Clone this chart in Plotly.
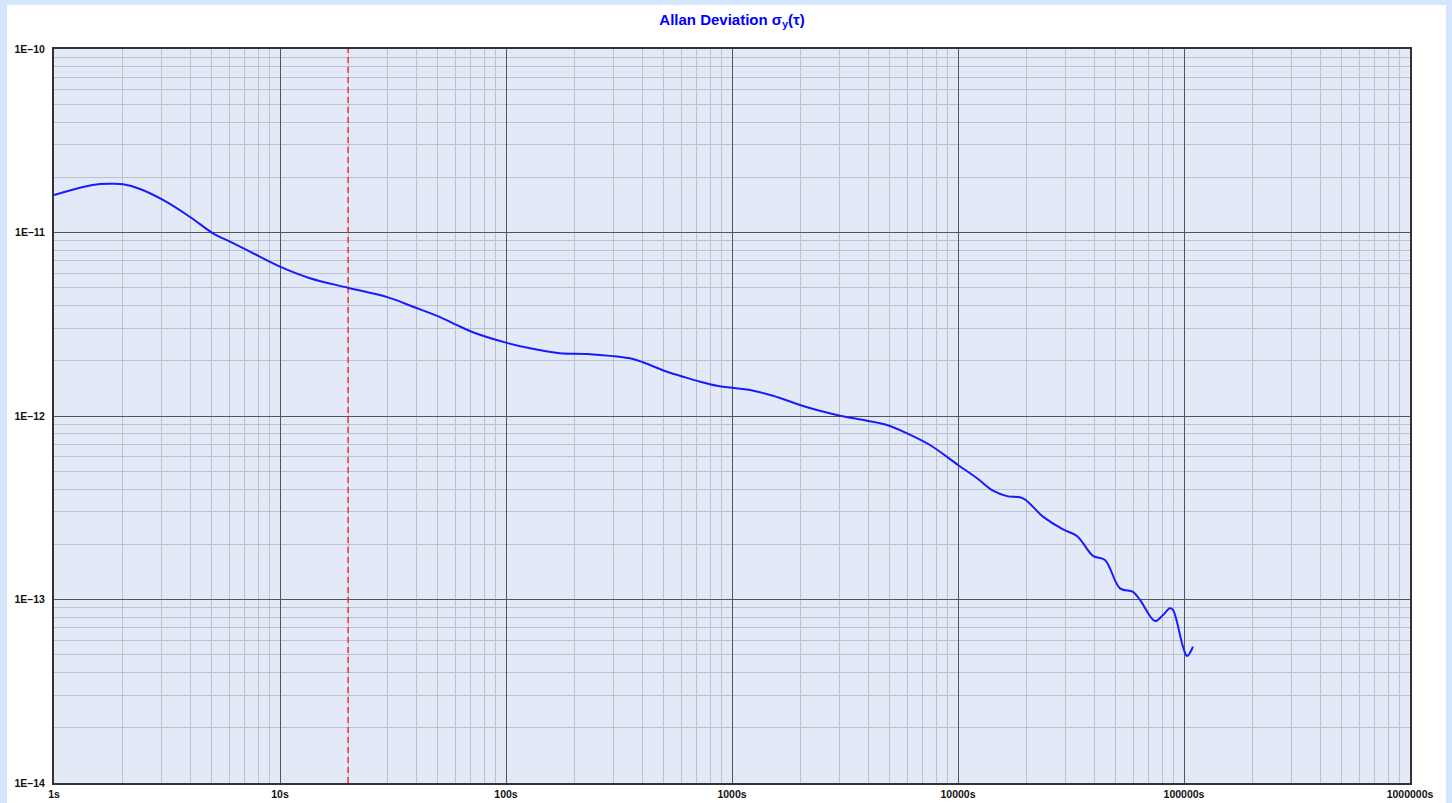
import plotly.graph_objects as go

# Allan deviation data
tau = [1.0, 1.344, 1.598, 1.824, 2.02, 2.402, 3.036, 3.998, 5.051, 6.008, 7.367, 10.0,
       13.57, 20.0, 30.06, 38.77, 49.52, 60.7, 71.4, 100.0, 127.7, 173.4, 228.2, 297.5,
       364.7, 403.8, 515.6, 607.0, 721.8, 858.2, 1000.0, 1201.0, 1519.0, 1999.0, 2377.0,
       3006.0, 3957.0, 4851.0, 5948.0, 7517.0, 10000.0, 12140.0, 14290.0, 16480.0,
       19390.0, 23770.0, 29150.0, 33610.0, 39570.0, 44710.0, 52110.0, 59480.0, 63890.0,
       74410.0, 80760.0, 86720.0, 89390.0, 98990.0, 103100.0, 109600.0]
sigma = [1.60e-11, 1.77e-11, 1.838e-11, 1.845e-11, 1.831e-11, 1.726e-11, 1.504e-11,
         1.215e-11, 9.90e-12, 8.91e-12, 7.86e-12, 6.51e-12, 5.63e-12, 5.00e-12, 4.43e-12,
         3.94e-12, 3.51e-12, 3.13e-12, 2.86e-12, 2.51e-12, 2.34e-12, 2.20e-12, 2.18e-12,
         2.12e-12, 2.045e-12, 1.962e-12, 1.743e-12, 1.637e-12, 1.538e-12, 1.462e-12,
         1.426e-12, 1.386e-12, 1.29e-12, 1.148e-12, 1.078e-12, 1.004e-12, 9.43e-13,
         8.93e-13, 8.05e-13, 6.95e-13, 5.41e-13, 4.58e-13, 3.92e-13, 3.66e-13, 3.56e-13,
         2.83e-13, 2.41e-13, 2.22e-13, 1.73e-13, 1.64e-13, 1.15e-13, 1.10e-13, 9.94e-14,
         7.63e-14, 8.23e-14, 8.96e-14, 8.77e-14, 5.53e-14, 4.92e-14, 5.53e-14]

marker_tau = 20.0
y_limits = [1e-14, 1e-10]

x_tickvals = [1, 10, 100, 1000, 10000, 100000, 1000000]
x_ticktext = ["1s", "10s", "100s", "1000s", "10000s", "100000s", "1000000s"]
y_tickvals = [1e-14, 1e-13, 1e-12, 1e-11, 1e-10]
y_ticktext = ["1E\u201314", "1E\u201313", "1E\u201312", "1E\u201311", "1E\u201310"]

x_minor = [m * 10 ** d for d in range(0, 6) for m in range(2, 10)]
y_minor = [m * 10.0 ** d for d in range(-14, -10) for m in range(2, 10)]

fig = go.Figure()
fig.add_trace(go.Scatter(x=[marker_tau, marker_tau], y=y_limits, mode="lines",
                         line=dict(color="#ff1a1a", width=1.3, dash="6px,4px"),
                         hoverinfo="skip", showlegend=False))
fig.add_trace(go.Scatter(x=tau, y=sigma, mode="lines",
                         line=dict(color="#1a1aff", width=2, shape="spline", smoothing=1.0),
                         showlegend=False))

axis_common = dict(
    type="log", showline=True, linecolor="#333333", linewidth=2, mirror=True,
    showgrid=True, gridcolor="#555555", gridwidth=1, zeroline=False, ticks="",
    automargin=False,
    tickfont=dict(family="Liberation Sans, Arial, sans-serif", size=10.5, color="#111111"),
)

fig.update_xaxes(**axis_common, range=[0, 6], tickvals=x_tickvals,
                 ticktext=["<b>%s</b>" % t for t in x_ticktext],
                 minor=dict(tickvals=x_minor, showgrid=True, gridcolor="#bcc2cd", gridwidth=1, ticks=""))
fig.update_yaxes(**axis_common, range=[-14, -10], tickvals=y_tickvals,
                 ticktext=["<b>%s</b>" % t for t in y_ticktext], ticklabelstandoff=5,
                 minor=dict(tickvals=y_minor, showgrid=True, gridcolor="#bcc2cd", gridwidth=1, ticks=""))

W, H = 1452, 803
ml, mr, mt, mb = 54, 42, 49, 20
pw, ph = W - ml - mr, H - mt - mb

def px_to_paper_x(p):
    return (p - ml) / pw

def py_to_paper_y(p):
    return (H - mb - p) / ph

border_color = "#d5e6fc"
shapes = [
    dict(type="rect", xref="paper", yref="paper", layer="below", line=dict(width=0),
         fillcolor=border_color, x0=px_to_paper_x(0), x1=px_to_paper_x(7),
         y0=py_to_paper_y(H), y1=py_to_paper_y(0)),
    dict(type="rect", xref="paper", yref="paper", layer="below", line=dict(width=0),
         fillcolor=border_color, x0=px_to_paper_x(0), x1=px_to_paper_x(W),
         y0=py_to_paper_y(5), y1=py_to_paper_y(0)),
    dict(type="rect", xref="paper", yref="paper", layer="below", line=dict(width=0),
         fillcolor=border_color, x0=px_to_paper_x(1446), x1=px_to_paper_x(W),
         y0=py_to_paper_y(H), y1=py_to_paper_y(0)),
]

fig.update_layout(
    width=W, height=H,
    margin=dict(l=ml, r=mr, t=mt, b=mb, autoexpand=False),
    paper_bgcolor="white", plot_bgcolor="#e3e9f6",
    title=dict(text="<b>Allan Deviation \u03c3<sub>y</sub>(\u03c4)</b>", x=(ml + pw / 2) / W,
               xanchor="center", y=1 - 20 / H, yanchor="middle",
               font=dict(family="Liberation Sans, Arial, sans-serif", size=15, color="#0000ff")),
    shapes=shapes,
    showlegend=False,
)

fig.write_html("out.html", config={"displayModeBar": False},
               post_script="document.body.style.margin='0';document.body.style.overflow='hidden';")
